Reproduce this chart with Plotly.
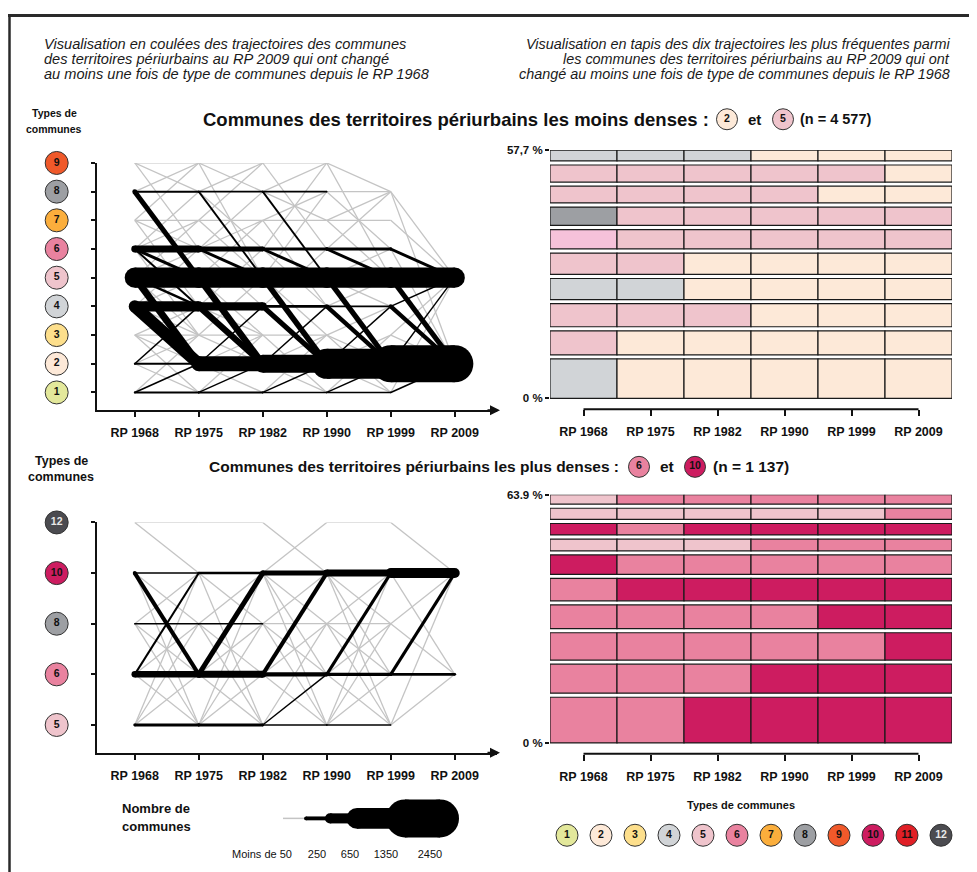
import plotly.graph_objects as go

W, H = 977, 872
OFF = 8                      # page body margin
FW, FH = W - OFF, H - OFF    # figure size

YEARS = ["RP 1968", "RP 1975", "RP 1982", "RP 1990", "RP 1999", "RP 2009"]

TYPE_COLORS = {1: '#e3e89b', 2: '#fde9d8', 3: '#fddf8c', 4: '#d1d4d7', 5: '#efc4cc', 6: '#e9829f',
               7: '#fbae3c', 8: '#9d9fa3', 9: '#f0592a', 10: '#cd1c60', 11: '#e01f26', 12: '#4b4b50'}
TYPE_TEXT_COLORS = {12: '#e8e8e8'}
ALL_TYPES = [1, 2, 3, 4, 5, 6, 7, 8, 9, 10, 11, 12]

TOP_TYPES = [1, 2, 3, 4, 5, 6, 7, 8, 9]
BOTTOM_TYPES = [5, 6, 8, 10, 12]

# ---- "coulées" : black flows (type from, type to, number of communes), per period
TOP_FLOWS_1968_1975 = [(5, 5, 1300), (4, 4, 650), (6, 6, 450), (8, 8, 130), (2, 2, 120), (1, 1, 130),
                       (4, 2, 780), (5, 2, 450), (8, 5, 320), (6, 5, 200), (6, 4, 130), (5, 4, 160),
                       (2, 4, 100), (1, 2, 100)]
TOP_FLOWS_1975_1982 = [(5, 5, 1300), (2, 2, 970), (4, 4, 520), (6, 6, 320), (8, 8, 120), (1, 1, 120),
                       (4, 2, 400), (5, 2, 420), (8, 5, 120), (6, 5, 190), (2, 4, 90), (1, 2, 90)]
TOP_FLOWS_1982_1990 = [(5, 5, 1300), (2, 2, 1160), (4, 4, 190), (6, 6, 190), (8, 8, 100), (1, 1, 100),
                       (8, 5, 120), (6, 5, 190), (5, 2, 360), (4, 2, 330), (2, 4, 90), (1, 2, 90)]
TOP_FLOWS_1990_1999 = [(5, 5, 1300), (2, 2, 1940), (6, 6, 190), (4, 4, 120), (1, 1, 100), (6, 5, 190),
                       (5, 2, 340), (4, 2, 280), (1, 2, 90), (2, 4, 90)]
TOP_FLOWS_1999_2009 = [(5, 5, 1300), (2, 2, 2400), (6, 5, 190), (5, 2, 330), (4, 5, 100), (4, 2, 270),
                       (1, 2, 100), (2, 5, 90)]

# grey flows (fewer than 50 communes)
TOP_GREY_1968_1975 = [(9, 9), (9, 8), (9, 6), (8, 9), (7, 9), (7, 7), (7, 6), (7, 4), (6, 7), (6, 3), (5, 7),
                      (5, 6), (5, 3), (4, 6), (4, 3), (3, 3), (3, 4), (3, 2), (3, 1), (2, 3), (1, 3), (2, 1),
                      (4, 5), (6, 8)]
TOP_GREY_1975_1982 = [(9, 9), (9, 8), (8, 9), (9, 5), (7, 7), (7, 9), (7, 5), (6, 7), (6, 8), (5, 7), (5, 3),
                      (4, 6), (4, 3), (3, 3), (3, 2), (3, 5), (2, 3), (2, 1), (1, 3), (8, 6), (6, 4)]
TOP_GREY_1982_1990 = [(9, 9), (9, 6), (8, 9), (7, 7), (7, 8), (7, 4), (6, 9), (5, 8), (5, 3), (4, 6), (3, 3),
                      (3, 1), (2, 3), (1, 3), (2, 1), (8, 7), (6, 4)]
TOP_GREY_1990_1999 = [(9, 8), (9, 5), (8, 6), (7, 5), (7, 8), (6, 8), (5, 6), (5, 4), (4, 5), (3, 2), (3, 4),
                      (2, 3), (1, 3), (2, 1), (3, 1), (8, 8), (7, 7)]
TOP_GREY_1999_2009 = [(8, 5), (8, 2), (7, 5), (6, 2), (3, 5), (3, 2), (1, 5)]

BOTTOM_FLOWS_1968_1975 = [(10, 10, 100), (10, 6, 260), (8, 8, 90), (6, 6, 420), (6, 10, 130), (5, 5, 190)]
BOTTOM_FLOWS_1975_1982 = [(10, 10, 160), (6, 10, 320), (6, 6, 450), (8, 8, 90), (5, 5, 190)]
BOTTOM_FLOWS_1982_1990 = [(10, 10, 320), (6, 10, 260), (6, 6, 280), (5, 6, 90), (5, 5, 100)]
BOTTOM_FLOWS_1990_1999 = [(10, 10, 450), (6, 10, 200), (6, 6, 220), (5, 5, 80)]
BOTTOM_FLOWS_1999_2009 = [(10, 10, 640), (6, 10, 200), (6, 6, 180)]

BOTTOM_GREY_1968_1975 = [(12, 12), (12, 10), (10, 8), (10, 5), (8, 10), (8, 6), (8, 5), (6, 8), (6, 5), (5, 8),
                         (5, 6), (5, 10)]
BOTTOM_GREY_1975_1982 = [(12, 12), (10, 8), (10, 5), (8, 10), (8, 6), (8, 5), (6, 8), (6, 5), (5, 8), (5, 6),
                         (5, 10)]
BOTTOM_GREY_1982_1990 = [(12, 10), (10, 12), (10, 8), (10, 6), (10, 5), (8, 10), (8, 6), (8, 5), (6, 8), (6, 5),
                         (5, 8), (8, 8)]
BOTTOM_GREY_1990_1999 = [(12, 12), (10, 8), (10, 6), (10, 5), (8, 10), (8, 6), (8, 5), (6, 8), (6, 5), (5, 8),
                         (5, 6), (8, 8), (5, 10)]
BOTTOM_GREY_1999_2009 = [(12, 10), (10, 6), (8, 10), (8, 6), (5, 6), (5, 10)]

# ---- "tapis" : ten most frequent trajectories (bottom -> top), share in %
TOP_TAPIS_SHARES = [9.62, 6.54, 6.31, 5.85, 5.92, 5.46, 5.23, 4.85, 4.92, 3.00]
TOP_TAPIS_ROWS = [[4, 2, 2, 2, 2, 2], [5, 2, 2, 2, 2, 2], [5, 5, 5, 2, 2, 2], [4, 4, 2, 2, 2, 2],
                  [5, 5, 2, 2, 2, 2], [6, 5, 5, 5, 5, 5], [8, 5, 5, 5, 5, 5], [5, 5, 5, 5, 2, 2],
                  [5, 5, 5, 5, 5, 2], [4, 4, 4, 2, 2, 2]]
TOP_TAPIS_COLOR_OVERRIDE = {6: '#f6c2da'}
TOP_TAPIS_MAX = 57.7
TOP_TAPIS_LABELS = ["0 %", "57,7 %"]

BOTTOM_TAPIS_SHARES = [12.27, 8.52, 8.09, 7.16, 6.82, 6.05, 4.09, 4.00, 3.92, 2.98]
BOTTOM_TAPIS_ROWS = [[6, 6, 10, 10, 10, 10], [6, 6, 6, 10, 10, 10], [6, 6, 6, 6, 6, 10], [6, 6, 6, 6, 10, 10],
                     [6, 10, 10, 10, 10, 10], [10, 6, 6, 6, 6, 6], [5, 5, 5, 6, 6, 6], [10, 6, 10, 10, 10, 10],
                     [5, 5, 5, 5, 5, 6], [5, 6, 6, 6, 6, 6]]
BOTTOM_TAPIS_MAX = 63.9
BOTTOM_TAPIS_LABELS = ["0 %", "63.9 %"]

# ---- legend of flow widths
LEGEND_COUNTS = [50, 250, 650, 1350, 2450]
LEGEND_LABELS = ["Moins de 50", "250", "650", "1350", "2450"]

FONT = "Liberation Sans"
GREY = '#c4c4c4'

# axis geometry (page pixels)
TOP_FLOW_Y = (158, 407, 0.38, 9.0)        # top px, bottom px, range min, range max
BOT_FLOW_Y = (520, 752, -0.55, 4.0)
FLOW_X = (97, 497, -0.59, 5.66)


def flow_width(n):
    return max(1.4, n * 38.0 / 2450.0)


def fx(px):
    return (px - OFF) / FW


def fy(py):
    return 1 - (py - OFF) / FH


def xdom(a, b):
    return [fx(a), fx(b)]


def ydom(top, bottom):
    return [fy(bottom), fy(top)]


def val_to_py(v, geo):
    top, bot, lo, hi = geo
    return bot - (v - lo) / (hi - lo) * (bot - top)


def val_to_px(v, geo):
    left, right, lo, hi = geo
    return left + (v - lo) / (hi - lo) * (right - left)


fig = go.Figure()


def add_flows(periods_black, periods_grey, ymap, xa, ya):
    gx, gy = [], []
    for i, segs in enumerate(periods_grey):
        for a, b in segs:
            gx += [i, i + 1, None]
            gy += [ymap(a), ymap(b), None]
    fig.add_trace(go.Scatter(x=gx, y=gy, mode='lines', line=dict(color=GREY, width=1.3),
                             xaxis=xa, yaxis=ya, hoverinfo='skip', showlegend=False))
    for i, segs in enumerate(periods_black):
        for a, b, n in sorted(segs, key=lambda s: s[2]):
            w = flow_width(n)
            fig.add_trace(go.Scatter(x=[i, i + 1], y=[ymap(a), ymap(b)], mode='lines+markers',
                                     line=dict(color='black', width=w),
                                     marker=dict(size=w, color='black', opacity=1, line=dict(width=0)),
                                     xaxis=xa, yaxis=ya, hoverinfo='skip', showlegend=False))


bidx = {t: i for i, t in enumerate(BOTTOM_TYPES)}

add_flows([TOP_FLOWS_1968_1975, TOP_FLOWS_1975_1982, TOP_FLOWS_1982_1990, TOP_FLOWS_1990_1999, TOP_FLOWS_1999_2009],
          [TOP_GREY_1968_1975, TOP_GREY_1975_1982, TOP_GREY_1982_1990, TOP_GREY_1990_1999, TOP_GREY_1999_2009],
          lambda t: t, 'x', 'y')
add_flows([BOTTOM_FLOWS_1968_1975, BOTTOM_FLOWS_1975_1982, BOTTOM_FLOWS_1982_1990, BOTTOM_FLOWS_1990_1999,
           BOTTOM_FLOWS_1999_2009],
          [BOTTOM_GREY_1968_1975, BOTTOM_GREY_1975_1982, BOTTOM_GREY_1982_1990, BOTTOM_GREY_1990_1999,
           BOTTOM_GREY_1999_2009],
          lambda t: bidx[t], 'x3', 'y3')


def add_tapis(shares, rows, gap, xa, ya, override=None):
    override = override or {}
    cum = 0.0
    n = len(shares)
    for k, (s, row) in enumerate(zip(shares, rows)):
        lo = cum + (gap / 2 if k > 0 else 0)
        hi = cum + s - (gap / 2 if k < n - 1 else 0)
        cum += s
        fig.add_trace(go.Bar(
            x=list(range(6)), y=[hi - lo] * 6, base=[lo] * 6, width=1,
            marker=dict(color=[override.get(t, TYPE_COLORS[t]) for t in row], opacity=1,
                        line=dict(color='#1a1a1a', width=1.2)),
            xaxis=xa, yaxis=ya, hoverinfo='skip', showlegend=False))


add_tapis(TOP_TAPIS_SHARES, TOP_TAPIS_ROWS, 0.95, 'x2', 'y2', TOP_TAPIS_COLOR_OVERRIDE)
add_tapis(BOTTOM_TAPIS_SHARES, BOTTOM_TAPIS_ROWS, 1.05, 'x4', 'y4')

# ---- canvas decorations (type circles, title circles, legend items) in page pixels
circ_x, circ_y, circ_t, circ_s = [], [], [], []
lab_x = val_to_px(-1.22, FLOW_X)
for t in TOP_TYPES:
    circ_x.append(lab_x); circ_y.append(val_to_py(t, TOP_FLOW_Y)); circ_t.append(t); circ_s.append(23)
for t in BOTTOM_TYPES:
    circ_x.append(lab_x); circ_y.append(val_to_py(bidx[t], BOT_FLOW_Y)); circ_t.append(t); circ_s.append(23)
for x, y, t in [(727, 114, 2), (783, 114, 5), (639, 464, 6), (695, 464, 10)]:
    circ_x.append(x); circ_y.append(y); circ_t.append(t); circ_s.append(21)
for i, t in enumerate(ALL_TYPES):
    circ_x.append(567 + 34 * i); circ_y.append(835); circ_t.append(t); circ_s.append(22)

fig.add_trace(go.Scatter(
    x=circ_x, y=circ_y, mode='markers+text',
    marker=dict(size=circ_s, opacity=1, color=[TYPE_COLORS[t] for t in circ_t], line=dict(color='#333', width=1)),
    text=[str(t) for t in circ_t], textposition='middle center',
    textfont=dict(family=FONT, size=10.5, weight='bold',
                  color=[TYPE_TEXT_COLORS.get(t, '#111') for t in circ_t]),
    xaxis='x5', yaxis='y5', hoverinfo='skip', showlegend=False, cliponaxis=False))

# width legend
leg_segments = [(283, 306), (306, 330), (330, 357), (357, 393), (405, 440)]
for (a, b), n in zip(leg_segments, LEGEND_COUNTS):
    if n < 100:
        fig.add_trace(go.Scatter(x=[a, b], y=[818, 818], mode='lines', line=dict(color=GREY, width=1.5),
                                 xaxis='x5', yaxis='y5', hoverinfo='skip', showlegend=False))
    else:
        w = flow_width(n)
        fig.add_trace(go.Scatter(x=[a, b], y=[818, 818], mode='lines+markers', line=dict(color='black', width=w),
                                 marker=dict(size=w, color='black', opacity=1, line=dict(width=0)),
                                 xaxis='x5', yaxis='y5', hoverinfo='skip', showlegend=False))
leg_label_x = [262, 317, 350, 386, 430]
fig.add_trace(go.Scatter(x=leg_label_x, y=[855] * 5, mode='text', text=LEGEND_LABELS,
                         textposition='middle center', textfont=dict(family=FONT, size=11, color='#111'),
                         xaxis='x5', yaxis='y5', hoverinfo='skip', showlegend=False, cliponaxis=False))

# ---- axes
tickfont = dict(family=FONT, size=12.5, color='#111', weight='bold')
flow_x = dict(range=[FLOW_X[2], FLOW_X[3]], tickvals=list(range(6)), ticktext=YEARS, showline=True,
              linecolor='#111', linewidth=2, ticks='outside', ticklen=5, tickwidth=1.5, tickcolor='#111',
              showgrid=False, zeroline=False, tickfont=tickfont, ticklabelstandoff=5, fixedrange=True)
flow_y = dict(showline=True, linecolor='#111', linewidth=2, ticks='outside', ticklen=4, tickwidth=1.5,
              tickcolor='#111', showgrid=False, zeroline=False, showticklabels=False, fixedrange=True)
tapis_x = dict(range=[-0.5, 5.5], tickvals=list(range(6)), ticktext=YEARS, showline=False, ticks='outside',
               ticklen=6, tickwidth=2, tickcolor='#111', showgrid=False, zeroline=False, tickfont=tickfont,
               ticklabelstandoff=5, fixedrange=True)
pctfont = dict(family=FONT, size=11.5, color='#111', weight='bold')
tapis_y = dict(showline=False, ticks='outside', ticklen=4, tickwidth=2, tickcolor='#111', showgrid=False,
               zeroline=False, tickfont=pctfont, fixedrange=True)

fig.update_layout(
    width=FW, height=FH, margin=dict(l=0, r=0, t=0, b=0), autosize=False,
    paper_bgcolor='white', plot_bgcolor='rgba(0,0,0,0)', barmode='overlay', showlegend=False,
    xaxis=dict(domain=xdom(FLOW_X[0], FLOW_X[1]), anchor='y', **flow_x),
    yaxis=dict(domain=ydom(TOP_FLOW_Y[0], TOP_FLOW_Y[1]), anchor='x', range=[TOP_FLOW_Y[2], TOP_FLOW_Y[3]],
               tickvals=TOP_TYPES, **flow_y),
    xaxis2=dict(domain=xdom(550, 952), anchor='y2', **tapis_x),
    yaxis2=dict(domain=ydom(145, 406), anchor='x2', range=[-TOP_TAPIS_MAX * 11 / 250, TOP_TAPIS_MAX],
                tickvals=[0, TOP_TAPIS_MAX], ticktext=TOP_TAPIS_LABELS, **tapis_y),
    xaxis3=dict(domain=xdom(FLOW_X[0], FLOW_X[1]), anchor='y3', **flow_x),
    yaxis3=dict(domain=ydom(BOT_FLOW_Y[0], BOT_FLOW_Y[1]), anchor='x3', range=[BOT_FLOW_Y[2], BOT_FLOW_Y[3]],
                tickvals=list(range(5)), **flow_y),
    xaxis4=dict(domain=xdom(550, 952), anchor='y4', **tapis_x),
    yaxis4=dict(domain=ydom(492, 753), anchor='x4', range=[-BOTTOM_TAPIS_MAX * 11 / 250, BOTTOM_TAPIS_MAX],
                tickvals=[0, BOTTOM_TAPIS_MAX], ticktext=BOTTOM_TAPIS_LABELS, **tapis_y),
    xaxis5=dict(domain=[0, 1], anchor='y5', range=[OFF, W], visible=False, fixedrange=True),
    yaxis5=dict(domain=[0, 1], anchor='x5', range=[H, OFF], visible=False, fixedrange=True),
)

shapes = [
    dict(type='line', xref='paper', yref='paper', x0=fx(8), x1=1, y0=fy(9.5), y1=fy(9.5),
         line=dict(color='#2a2a2a', width=3)),
    dict(type='line', xref='paper', yref='paper', x0=fx(9.5), x1=fx(9.5), y0=fy(8), y1=0,
         line=dict(color='#2a2a2a', width=2.5)),
    dict(type='line', xref='x2', yref='paper', x0=0, x1=5, y0=fy(406), y1=fy(406),
         line=dict(color='#111', width=2)),
    dict(type='line', xref='x4', yref='paper', x0=0, x1=5, y0=fy(753), y1=fy(753),
         line=dict(color='#111', width=2)),
]
fig.update_layout(shapes=shapes)

ann = []


def text(x, y, s, size, anchor='left', bold=False, italic=False, color='#111'):
    ann.append(dict(x=fx(x), y=fy(y), xref='paper', yref='paper', text=s, showarrow=False,
                    xanchor=anchor, yanchor='middle', borderpad=0,
                    font=dict(family=FONT, size=size, color=color, weight='bold' if bold else 'normal',
                              style='italic' if italic else 'normal')))


left_title = ["Visualisation en coulées des trajectoires des communes",
              "des territoires périurbains au RP 2009 qui ont changé",
              "au moins une fois de type de communes depuis le RP 1968"]
right_title = ["Visualisation en tapis des dix trajectoires les plus fréquentes parmi",
               "les communes des territoires périurbains au RP 2009 qui ont",
               "changé au moins une fois de type de communes depuis le RP 1968"]
for k, s in enumerate(left_title):
    text(43, 38 + 15 * k, s, 14.6, 'left', italic=True, color='#1a1a1a')
for k, s in enumerate(right_title):
    text(951, 38 + 15 * k, s, 14.4, 'right', italic=True, color='#1a1a1a')

text(54, 108, "Types de", 10.5, 'center', bold=True)
text(54, 124, "communes", 10.5, 'center', bold=True)
text(61, 458, "Types de", 12.5, 'center', bold=True)
text(61, 474, "communes", 12.5, 'center', bold=True)

text(202, 114, "Communes des territoires périurbains les moins denses :", 18.5, 'left', bold=True)
text(754, 114, "et", 15, 'center', bold=True)
text(799, 114, "(n = 4 577)", 14.5, 'left', bold=True)
text(208, 464, "Communes des territoires périurbains les plus denses :", 15.5, 'left', bold=True)
text(667, 464, "et", 15.5, 'center', bold=True)
text(712, 464, "(n = 1 137)", 15.5, 'left', bold=True)

text(156, 808, "Nombre de", 13, 'center', bold=True)
text(156, 826, "communes", 13, 'center', bold=True)
text(741, 805, "Types de communes", 11, 'center', bold=True)

# x-axis arrows of the flow charts
for yy in (407, 752):
    ann.append(dict(x=fx(500), y=fy(yy), xref='paper', yref='paper', ax=-14, ay=0, text='',
                    showarrow=True, arrowhead=2, arrowsize=1, arrowwidth=2, arrowcolor='#111'))

fig.update_layout(annotations=ann)

fig.write_html("out.html")
